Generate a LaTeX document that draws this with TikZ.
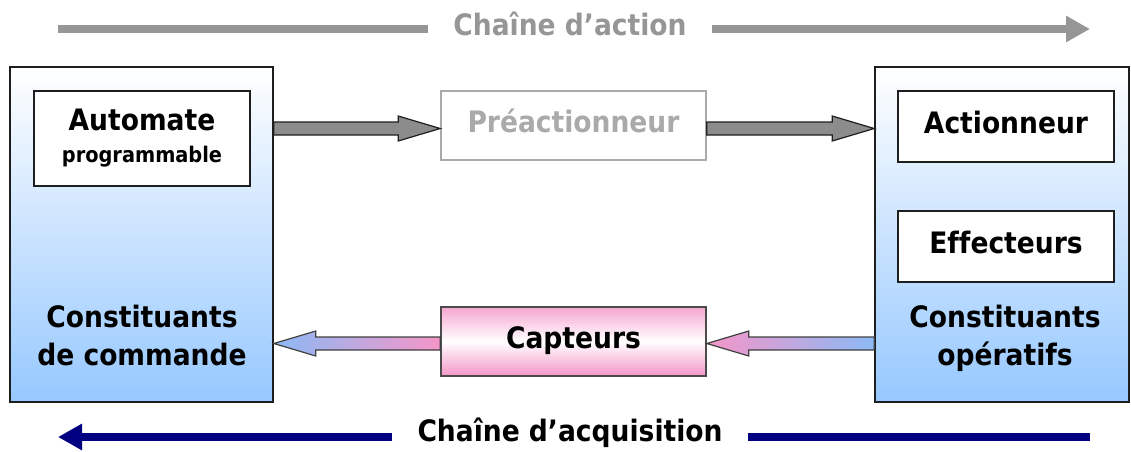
\documentclass[tikz,border=0pt]{standalone}
\usepackage{fontspec}
\setmainfont{DejaVuSansCondensed-Bold.ttf}[Ligatures=NoCommon]
\usetikzlibrary{calc,arrows.meta}

\definecolor{chaingray}{RGB}{150,150,150}
\definecolor{preagray}{RGB}{170,170,170}
\definecolor{acqnavy}{RGB}{0,0,128}
\definecolor{blockblue}{RGB}{150,200,255}
\definecolor{arrowblue}{RGB}{140,185,245}
\definecolor{sensorpink}{RGB}{245,150,200}
\definecolor{edge}{RGB}{30,30,30}

% horizontal block arrow from #2 to #3, drawn with style #1
\newcommand\blockarrow[3]{%
  \path[#1] let \p1=(#2), \p2=(#3), \n1={sign(\x2-\x1)} in
    (\x1,\y1+6.5) -- (\x2-\n1*42,\y1+6.5) -- (\x2-\n1*42,\y1+12.5) --
    (\x2,\y1) --
    (\x2-\n1*42,\y1-12.5) -- (\x2-\n1*42,\y1-6.5) -- (\x1,\y1-6.5) -- cycle;}

\tikzset{
  bigfont/.style={font=\fontsize{29.5}{38}\selectfont},
  raised/.style={text height=22pt, text depth=8pt},
  txt/.style={bigfont, align=center, inner sep=0pt, raised},
  bigbox/.style={draw=edge, line width=1.6pt, top color=white, bottom color=blockblue,
    minimum width=#1, minimum height=335pt, inner sep=0pt},
  innerbox/.style={draw=edge, line width=1.6pt, fill=white, minimum width=216pt,
    inner sep=0pt, bigfont, align=center},
  preabox/.style={draw=preagray, line width=1.6pt, fill=white, text=preagray,
    minimum width=265pt, minimum height=69pt, inner sep=0pt, bigfont, raised},
  sensorbox/.style={draw=edge!80, line width=1.6pt, top color=sensorpink!85, bottom color=sensorpink,
    middle color=white, minimum width=265pt, minimum height=69pt, inner sep=0pt, bigfont, raised},
  grayarrow/.style={draw=edge, line width=1.2pt, fill=gray!90},
  sensorarrow/.style={draw=edge!85, line width=1.2pt},
  chainline/.style={line width=8pt},
  chaintitle/.style={bigfont, inner xsep=25pt, inner ysep=0pt},
}

\begin{document}
\begin{tikzpicture}[x=1pt, y=-1pt]
\useasboundingbox (0,0) rectangle (1131,451);

% control side
\node[bigbox=263pt] (cmd) at (141.5,234.5) {};
\node[innerbox, minimum height=95pt] (plc) at (142,138.5)
  {Automate\\[-6pt]{\fontsize{21.5}{24}\selectfont programmable}};
\node[txt] (cmdlbl) at (142,358) {Constituants\\de commande};

% operative side
\node[bigbox=254pt] (op) at (1002,234.5) {};
\node[innerbox, raised, minimum height=71pt] (act) at (1006,126.5) {Actionneur};
\node[innerbox, raised, minimum height=71pt] (eff) at (1006,246.5) {Effecteurs};
\node[txt] (oplbl) at (1005,358) {Constituants\\opératifs};

% middle
\node[preabox] (pre) at (573.5,125.5) {Préactionneur};
\node[sensorbox] (cap) at (573.5,341.5) {Capteurs};

% action path
\coordinate (pa) at ($(pre.west)+(0,3)$);
\coordinate (pb) at ($(pre.east)+(0,3)$);
\blockarrow{grayarrow}{cmd.east |- pa}{pa}
\blockarrow{grayarrow}{pb}{op.west |- pb}

% acquisition path
\coordinate (ca) at ($(cap.west)+(0,2)$);
\coordinate (cb) at ($(cap.east)+(0,2)$);
\blockarrow{sensorarrow, left color=arrowblue, right color=sensorpink}{ca}{cmd.east |- ca}
\blockarrow{sensorarrow, left color=sensorpink, right color=arrowblue}{op.west |- cb}{cb}

% chain titles
\node[chaintitle, text=chaingray] (tact) at (570,24) {Chaîne d’action};
\coordinate (ta0) at (58,29);
\coordinate (ta1) at (1090,29);
\draw[chainline, chaingray] (ta0) -- (tact.west |- ta0);
\draw[chainline, chaingray, -{Triangle[length=24pt,width=25pt]}] (tact.east |- ta1) -- (ta1);

\node[chaintitle, text=black] (tacq) at (570,433) {Chaîne d’acquisition};
\coordinate (tq0) at (58,437);
\coordinate (tq1) at (1090,437);
\draw[chainline, acqnavy, -{Triangle[length=24pt,width=25pt]}] (tacq.west |- tq0) -- (tq0);
\draw[chainline, acqnavy] (tacq.east |- tq1) -- (tq1);
\end{tikzpicture}
\end{document}
